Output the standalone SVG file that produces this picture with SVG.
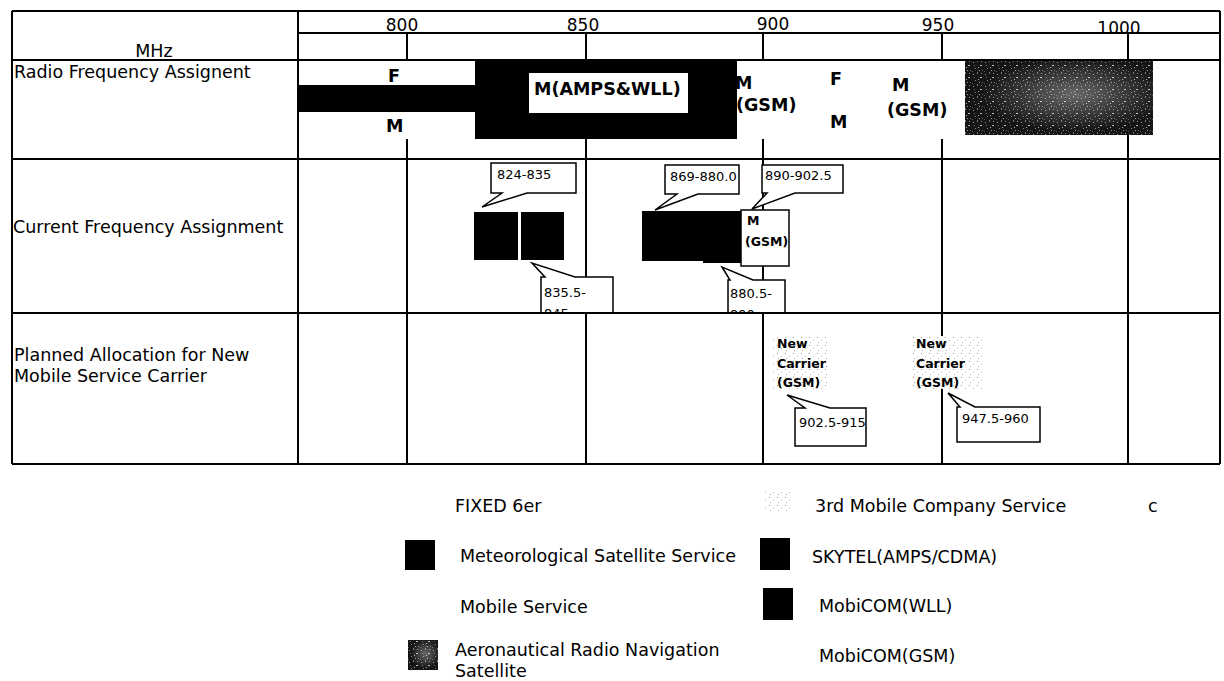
<svg xmlns="http://www.w3.org/2000/svg" width="1224" height="681" viewBox="0 0 1224 681">
<style>
.t{font-family:"DejaVu Sans",sans-serif;font-size:17.5px;fill:#000}
.h{font-family:"DejaVu Sans",sans-serif;font-size:17px;fill:#000;text-anchor:middle}
.b{font-family:"DejaVu Sans",sans-serif;font-weight:bold;font-size:17.5px;fill:#000}
.n{font-family:"DejaVu Sans",sans-serif;font-size:13px;fill:#000}
.s{font-family:"DejaVu Sans",sans-serif;font-weight:bold;font-size:12.5px;fill:#000}
.ln{stroke:#000;stroke-width:2;fill:none}
.co{fill:#fff;stroke:#000;stroke-width:1.5}
.blk{fill:#000}
</style>
<defs>
<pattern id="noise" width="12" height="12" patternUnits="userSpaceOnUse">
<rect width="12" height="12" fill="#151515"/>
<rect x="1" y="2" width="1" height="1" fill="#999"/>
<rect x="5" y="0" width="1" height="2" fill="#777"/>
<rect x="8" y="5" width="2" height="1" fill="#bbb"/>
<rect x="3" y="8" width="1" height="1" fill="#888"/>
<rect x="10" y="10" width="1" height="1" fill="#666"/>
<rect x="6" y="7" width="1" height="1" fill="#aaa"/>
<rect x="0" y="11" width="1" height="1" fill="#555"/>
<rect x="9" y="1" width="1" height="1" fill="#8a8a8a"/>
<rect x="2" y="5" width="1" height="1" fill="#6a6a6a"/>
<rect x="7" y="10" width="1" height="1" fill="#9a9a9a"/>
</pattern>
<radialGradient id="glow" cx="0.58" cy="0.45" r="0.5">
<stop offset="0" stop-color="#fff" stop-opacity="0.35"/>
<stop offset="1" stop-color="#fff" stop-opacity="0"/>
</radialGradient>
<pattern id="stip" width="8" height="8" patternUnits="userSpaceOnUse">
<rect width="8" height="8" fill="#fff"/>
<rect x="1" y="1" width="1" height="1" fill="#999"/>
<rect x="5" y="4" width="1" height="1" fill="#bbb"/>
<rect x="2" y="6" width="1" height="1" fill="#aaa"/>
</pattern>
<clipPath id="row2"><rect x="0" y="0" width="1224" height="312"/></clipPath>
</defs>
<rect width="1224" height="681" fill="#fff"/>

<g id="grid">
<path class="ln" d="M407,159V464M586,159V464M763,159V464M942,159V464M1128,159V464"/>
<path class="ln" d="M407,33V60M586,33V60M763,33V60M942,33V60M1128,33V60"/>
<path class="ln" d="M407,139V159M586,139V159M763,139V159M942,139V159M1128,135V159"/>
<path class="ln" d="M298,33H1220"/>
<text class="h" x="402" y="31">800</text>
<text class="h" x="583" y="31">850</text>
<text class="h" x="773" y="30">900</text>
<text class="h" x="938" y="31">950</text>
<text class="h" x="1119" y="34">1000</text>
<text class="t" x="154" y="57" text-anchor="middle">MHz</text>
<text class="t" x="14" y="78">Radio Frequency Assignent</text>
<text class="t" x="13" y="233">Current Frequency Assignment</text>
<text class="t" x="14" y="361">Planned Allocation for New</text>
<text class="t" x="14" y="382">Mobile Service Carrier</text>
</g>

<g id="radio-row">
<text class="b" x="388" y="82">F</text>
<text class="b" x="386" y="132">M</text>
<text class="b" x="735" y="89">M</text>
<text class="b" x="736" y="111">(GSM)</text>
<rect class="blk" x="298" y="85" width="178" height="27"/>
<rect class="blk" x="475" y="60" width="262" height="79"/>
<rect x="529" y="73" width="159" height="40" fill="#fff"/>
<text class="b" x="534" y="95">M(AMPS&amp;WLL)</text>
<text class="b" x="830" y="85">F</text>
<text class="b" x="830" y="128">M</text>
<text class="b" x="892" y="91">M</text>
<text class="b" x="887" y="116">(GSM)</text>
<rect x="965" y="61" width="188" height="74" fill="url(#noise)"/>
<rect x="965" y="61" width="188" height="74" fill="url(#glow)"/>
</g>

<g id="current-row">
<rect class="blk" x="474" y="212" width="44" height="48"/>
<rect class="blk" x="521" y="212" width="43" height="48"/>
<rect class="blk" x="642" y="211" width="62" height="50"/>
<rect class="blk" x="703" y="211" width="39" height="52"/>
<rect class="co" x="741" y="210" width="48" height="56"/>
<text class="s" x="747" y="225">M</text>
<text class="s" x="745" y="246">(GSM)</text>
<g id="c824">
<path class="co" d="M491,163H576V193H527L482,207L502,193H491Z"/>
<text class="n" x="497" y="179">824-835</text>
</g>
<g id="c869">
<path class="co" d="M665,165H739V194H698L655,210L677,194H665Z"/>
<text class="n" x="670" y="181">869-880.0</text>
</g>
<g id="c890">
<path class="co" d="M762,165H843V193H795L752,209L767,193H762Z"/>
<text class="n" x="765" y="180">890-902.5</text>
</g>
<g id="c835" clip-path="url(#row2)">
<path class="co" d="M541,277H545L532,263L575,277H613V316H541Z"/>
<text class="n" x="544" y="297">835.5-</text>
<text class="n" x="544" y="318">845</text>
</g>
<g id="c880" clip-path="url(#row2)">
<path class="co" d="M728,280H730L722,267L753,280H785V316H728Z"/>
<text class="n" x="730" y="298">880.5-</text>
<text class="n" x="730" y="319">890</text>
</g>
</g>

<g id="planned-row">
<rect x="773" y="336" width="55" height="53" fill="url(#stip)"/>
<text class="s" x="777" y="348">New</text>
<text class="s" x="777" y="368">Carrier</text>
<text class="s" x="777" y="387">(GSM)</text>
<rect x="913" y="336" width="72" height="53" fill="url(#stip)"/>
<text class="s" x="916" y="348">New</text>
<text class="s" x="916" y="368">Carrier</text>
<text class="s" x="916" y="387">(GSM)</text>
<g id="c902">
<path class="co" d="M795,408H805L787,395L830,408H866V446H795Z"/>
<text class="n" x="799" y="427">902.5-915</text>
</g>
<g id="c947">
<path class="co" d="M957,407H960L948,393L975,407H1040V442H957Z"/>
<text class="n" x="962" y="423">947.5-960</text>
</g>
</g>

<g id="frame">
<path class="ln" d="M12,11H1220M12,60H1220M12,159H1220M12,313H1220M12,464H1220M12,11V464M298,11V464M1220,11V464"/>
</g>

<g id="legend">
<g id="lg-fixed"><text class="t" x="455" y="512">FIXED 6er</text></g>
<g id="lg-met"><rect class="blk" x="405" y="540" width="30" height="30"/><text class="t" x="460" y="562">Meteorological Satellite Service</text></g>
<g id="lg-mob"><text class="t" x="460" y="613">Mobile Service</text></g>
<g id="lg-aero"><rect x="408" y="640" width="30" height="30" fill="url(#noise)"/><rect x="408" y="640" width="30" height="30" fill="url(#glow)"/><text class="t" x="455" y="656">Aeronautical Radio Navigation</text><text class="t" x="455" y="677">Satellite</text></g>
<g id="lg-3rd"><rect x="763" y="490" width="27" height="23" fill="url(#stip)"/><text class="t" x="815" y="512">3rd Mobile Company Service</text></g>
<g id="lg-c"><text class="t" x="1148" y="512">c</text></g>
<g id="lg-sky"><rect class="blk" x="760" y="538" width="30" height="32"/><text class="t" x="812" y="563">SKYTEL(AMPS/CDMA)</text></g>
<g id="lg-wll"><rect class="blk" x="763" y="588" width="30" height="32"/><text class="t" x="819" y="612">MobiCOM(WLL)</text></g>
<g id="lg-gsm"><text class="t" x="819" y="662">MobiCOM(GSM)</text></g>
</g>
</svg>
